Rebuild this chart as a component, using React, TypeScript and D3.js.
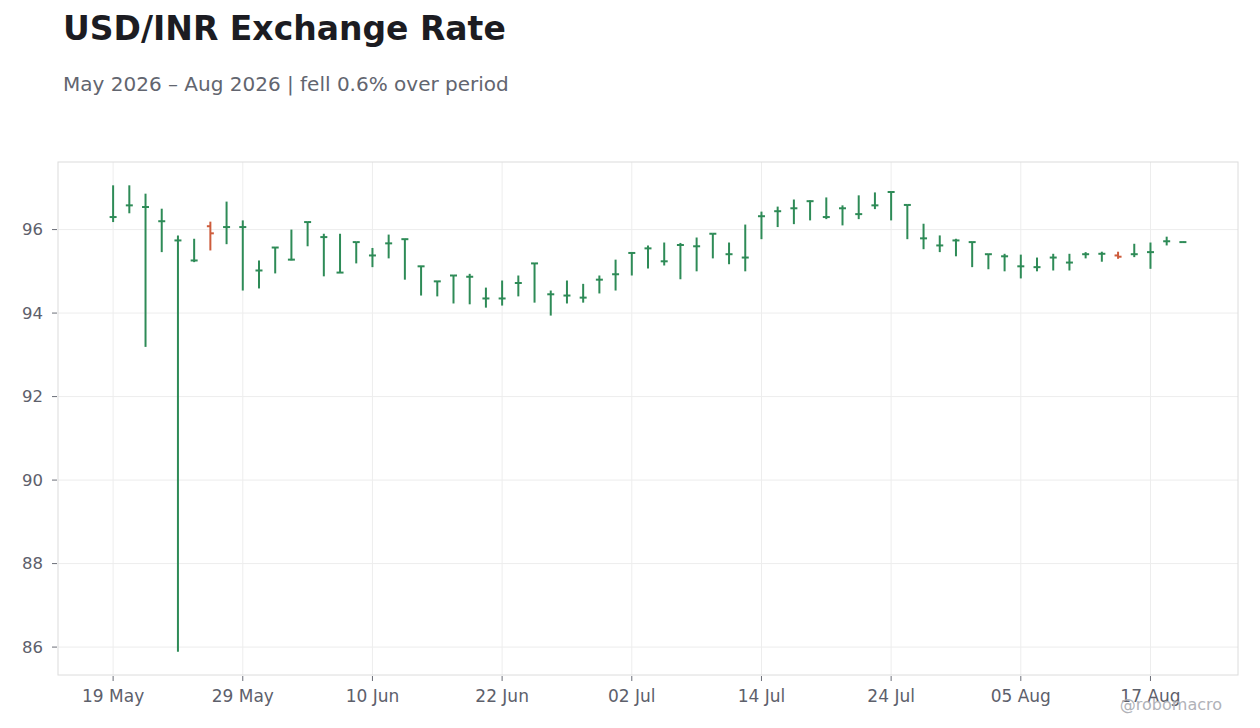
import { useMemo } from "react";
import * as d3 from "d3";

const W = 1260;
const H = 728;
const PLOT = { left: 58, right: 1238, top: 162, bottom: 675 };

// business days, one bar each
const dates = [
  "2026-05-19", "2026-05-20", "2026-05-21", "2026-05-22", "2026-05-25", "2026-05-26", "2026-05-27", "2026-05-28",
  "2026-05-29", "2026-06-01", "2026-06-02", "2026-06-03", "2026-06-04", "2026-06-05", "2026-06-08", "2026-06-09",
  "2026-06-10", "2026-06-11", "2026-06-12", "2026-06-15", "2026-06-16", "2026-06-17", "2026-06-18", "2026-06-19",
  "2026-06-22", "2026-06-23", "2026-06-24", "2026-06-25", "2026-06-26", "2026-06-29", "2026-06-30", "2026-07-01",
  "2026-07-02", "2026-07-03", "2026-07-06", "2026-07-07", "2026-07-08", "2026-07-09", "2026-07-10", "2026-07-13",
  "2026-07-14", "2026-07-15", "2026-07-16", "2026-07-17", "2026-07-20", "2026-07-21", "2026-07-22", "2026-07-23",
  "2026-07-24", "2026-07-27", "2026-07-28", "2026-07-29", "2026-07-30", "2026-07-31", "2026-08-03", "2026-08-04",
  "2026-08-05", "2026-08-06", "2026-08-07", "2026-08-10", "2026-08-11", "2026-08-12", "2026-08-13", "2026-08-14",
  "2026-08-17", "2026-08-18", "2026-08-19",
];

const open = [
  96.30, 96.58, 96.54, 96.20, 95.74, 95.26, 96.08, 96.06, 96.06, 95.02, 95.57, 95.28, 96.18, 95.82, 94.97, 95.70,
  95.38, 95.67, 95.77, 95.12, 94.76, 94.90, 94.87, 94.35, 94.35, 94.72, 95.19, 94.45, 94.42, 94.37, 94.80, 94.93,
  95.44, 95.55, 95.24, 95.63, 95.60, 95.90, 95.41, 95.33, 96.32, 96.44, 96.51, 96.68, 96.30, 96.51, 96.37, 96.58,
  96.90, 96.59, 95.79, 95.62, 95.74, 95.70, 95.41, 95.36, 95.12, 95.10, 95.33, 95.21, 95.41, 95.42, 95.38, 95.41,
  95.46, 95.72, 95.70,
];

const high = [
  97.06, 97.06, 96.86, 96.50, 95.86, 95.78, 96.19, 96.67, 96.22, 95.26, 95.58, 96.00, 96.19, 95.90, 95.90, 95.70,
  95.56, 95.88, 95.78, 95.13, 94.77, 94.91, 94.94, 94.61, 94.78, 94.90, 95.20, 94.54, 94.78, 94.70, 94.90, 95.28,
  95.46, 95.62, 95.69, 95.68, 95.81, 95.90, 95.69, 96.12, 96.43, 96.55, 96.72, 96.70, 96.77, 96.58, 96.82, 96.89,
  96.91, 96.60, 96.14, 95.86, 95.78, 95.71, 95.42, 95.42, 95.40, 95.33, 95.42, 95.42, 95.46, 95.47, 95.47, 95.66,
  95.69, 95.83, 95.71,
];

const low = [
  96.18, 96.39, 93.19, 95.46, 85.89, 95.22, 95.50, 95.65, 94.54, 94.59, 94.95, 95.26, 95.60, 94.88, 94.97, 95.19,
  95.10, 95.31, 94.80, 94.42, 94.40, 94.23, 94.21, 94.13, 94.18, 94.40, 94.25, 93.94, 94.23, 94.25, 94.47, 94.54,
  94.90, 95.07, 95.14, 94.81, 95.00, 95.31, 95.17, 95.00, 95.77, 96.06, 96.13, 96.22, 96.25, 96.10, 96.25, 96.49,
  96.22, 95.77, 95.53, 95.46, 95.36, 95.10, 95.05, 95.00, 94.83, 95.00, 95.02, 95.02, 95.31, 95.23, 95.30, 95.34,
  95.06, 95.62, 95.69,
];

const close = [
  96.30, 96.58, 96.54, 96.20, 95.74, 95.26, 95.91, 96.06, 96.06, 95.02, 95.57, 95.28, 96.18, 95.82, 94.97, 95.70,
  95.38, 95.67, 95.77, 95.12, 94.76, 94.90, 94.87, 94.35, 94.35, 94.72, 95.19, 94.45, 94.42, 94.37, 94.80, 94.93,
  95.44, 95.55, 95.24, 95.63, 95.60, 95.90, 95.41, 95.33, 96.32, 96.44, 96.51, 96.68, 96.30, 96.51, 96.37, 96.58,
  96.90, 96.59, 95.79, 95.62, 95.74, 95.70, 95.41, 95.36, 95.12, 95.10, 95.33, 95.21, 95.41, 95.42, 95.35, 95.41,
  95.46, 95.72, 95.70,
];

const yTicks = [86, 88, 90, 92, 94, 96];
const xTickIdx = [0, 8, 16, 24, 32, 40, 48, 56, 64];

const UP = "#2e8b57";
const DOWN = "#cd5c3c";
const FONT = "DejaVu Sans, sans-serif";

export default function App() {
  const bars = useMemo(
    () =>
      dates.map((d, i) => ({
        date: d3.timeParse("%Y-%m-%d")(d)!,
        o: open[i],
        h: high[i],
        l: low[i],
        c: close[i],
      })),
    [],
  );

  const x = d3
    .scaleLinear()
    .domain([-3.4, bars.length - 1 + 3.4])
    .range([PLOT.left, PLOT.right]);

  const lo = d3.min(low)!;
  const hi = d3.max(high)!;
  const pad = (hi - lo) * 0.05;
  const y = d3
    .scaleLinear()
    .domain([lo - pad, hi + pad])
    .range([PLOT.bottom, PLOT.top]);

  const fmt = d3.timeFormat("%d %b");
  const tick = 3.5;

  return (
    <svg
      width={W}
      height={H}
      style={{ position: "absolute", left: 0, top: 0, display: "block", background: "#fff" }}
      fontFamily={FONT}
    >
      <text x={63} y={40} fontSize={33} fontWeight="bold" fill="#1c1c22">
        USD/INR Exchange Rate
      </text>
      <text x={63} y={91} fontSize={20} fill="#62656f">
        May 2026 – Aug 2026 | fell 0.6% over period
      </text>

      {/* grid */}
      {yTicks.map((t) => (
        <line key={`gy${t}`} x1={PLOT.left} x2={PLOT.right} y1={y(t)} y2={y(t)} stroke="#ededed" />
      ))}
      {xTickIdx.map((i) => (
        <line key={`gx${i}`} x1={x(i)} x2={x(i)} y1={PLOT.top} y2={PLOT.bottom} stroke="#ededed" />
      ))}
      <rect
        x={PLOT.left}
        y={PLOT.top}
        width={PLOT.right - PLOT.left}
        height={PLOT.bottom - PLOT.top}
        fill="none"
        stroke="#dcdcdc"
      />

      {/* axes */}
      {yTicks.map((t) => (
        <g key={`yt${t}`}>
          <line x1={PLOT.left - 6} x2={PLOT.left - 1} y1={y(t)} y2={y(t)} stroke="#6b6e78" />
          <text x={PLOT.left - 15} y={y(t)} dy="0.35em" textAnchor="end" fontSize={16.5} fill="#5d606b">
            {t}
          </text>
        </g>
      ))}
      {xTickIdx.map((i) => (
        <g key={`xt${i}`}>
          <line x1={x(i)} x2={x(i)} y1={PLOT.bottom + 1} y2={PLOT.bottom + 6} stroke="#6b6e78" />
          <text x={x(i)} y={702} textAnchor="middle" fontSize={17} fill="#5d606b">
            {fmt(bars[i].date)}
          </text>
        </g>
      ))}

      {/* OHLC bars */}
      {bars.map((b, i) => {
        const col = b.c >= b.o ? UP : DOWN;
        const cx = x(i);
        return (
          <g key={i} stroke={col} strokeWidth={2}>
            <line x1={cx} x2={cx} y1={y(b.h)} y2={y(b.l)} />
            <line x1={cx - tick} x2={cx} y1={y(b.o)} y2={y(b.o)} />
            <line x1={cx} x2={cx + tick} y1={y(b.c)} y2={y(b.c)} />
          </g>
        );
      })}

      <text x={1222} y={710} textAnchor="end" fontSize={16} fill="#b0b2b8">
        @robomacro
      </text>
    </svg>
  );
}
